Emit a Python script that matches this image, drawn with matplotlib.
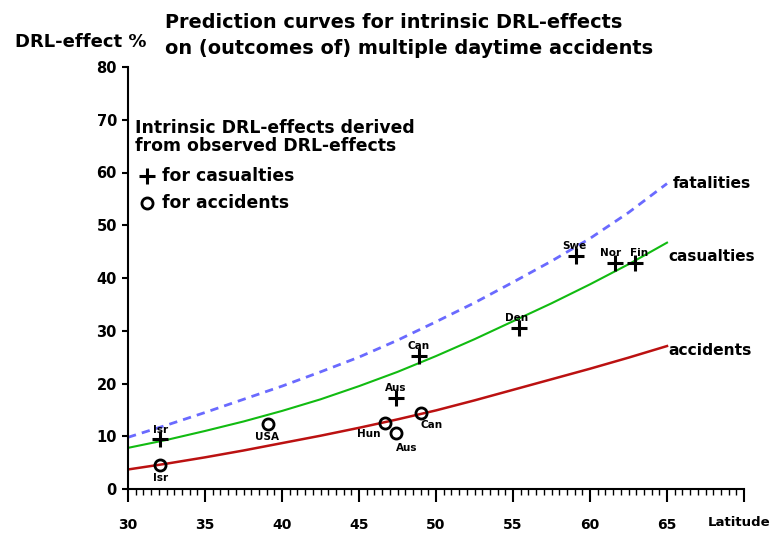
import matplotlib.pyplot as plt
from matplotlib.ticker import MultipleLocator

plt.rcParams['font.family'] = ['DejaVu Sans']
plt.rcParams['font.weight'] = 'bold'

# prediction curves
lat_curve = [30, 32.5, 35, 37.5, 40, 42.5, 45, 47.5, 50, 52.5, 55, 57.5, 60, 62.5, 65]
fatalities = [9.8, 12.1, 14.5, 17.0, 19.5, 22.2, 25.0, 28.2, 31.7, 35.3, 39.2, 43.2, 47.5, 52.4, 57.9]
casualties = [7.8, 9.3, 11.0, 12.8, 14.8, 17.0, 19.5, 22.2, 25.2, 28.4, 31.8, 35.2, 38.8, 42.6, 46.7]
accidents = [3.7, 4.8, 6.0, 7.3, 8.7, 10.1, 11.6, 13.2, 14.9, 16.8, 18.8, 20.8, 22.8, 24.9, 27.1]

# intrinsic effects derived from observed effects
cas_names = ["Isr", "Aus", "Can", "Den", "Swe", "Nor", "Fin"]
cas_lat = [32.1, 47.4, 48.9, 55.4, 59.1, 61.6, 62.9]
cas_val = [9.4, 17.3, 25.2, 30.6, 44.2, 42.9, 42.9]
cas_offsets = [(0, 7), (0, 7), (0, 7), (-2, 7), (-1, 7), (-3, 7), (3, 7)]

acc_names = ["Isr", "USA", "Hun", "Aus", "Can"]
acc_lat = [32.1, 39.1, 46.7, 47.4, 49.0]
acc_val = [4.5, 12.3, 12.6, 10.7, 14.5]
acc_offsets = [(0, -9), (-1, -9), (-12, -8), (8, -11), (8, -9)]

xticks = [30, 35, 40, 45, 50, 55, 60, 65, 70]
xticklabels = ["30", "35", "40", "45", "50", "55", "60", "65", ""]

fig = plt.figure(figsize=(7.72, 5.36), dpi=100)
ax = fig.add_axes([128 / 772, 1 - 489 / 536, 616 / 772, 422 / 536])

ax.plot(lat_curve, fatalities, color="#6a6aff", lw=2, dashes=(3, 2.2))
ax.plot(lat_curve, casualties, color="#11bb11", lw=1.5)
ax.plot(lat_curve, accidents, color="#bb1111", lw=1.8)

ax.plot(cas_lat, cas_val, linestyle="none", marker="+", color="black",
        markersize=11, markeredgewidth=2.2)
ax.plot(acc_lat, acc_val, linestyle="none", marker="o", color="black",
        markerfacecolor="none", markersize=8, markeredgewidth=2)

for name, x, y, off in zip(cas_names, cas_lat, cas_val, cas_offsets):
    ax.annotate(name, (x, y), xytext=off, textcoords="offset points",
                ha="center", va="center", fontsize=7.5)
for name, x, y, off in zip(acc_names, acc_lat, acc_val, acc_offsets):
    ax.annotate(name, (x, y), xytext=off, textcoords="offset points",
                ha="center", va="center", fontsize=7.5)

# curve names at the right end
ax.annotate("fatalities", (lat_curve[-1], fatalities[-1]), xytext=(4, 0),
            textcoords="offset points", va="center", fontsize=11.2)
ax.annotate("casualties", (lat_curve[-1], casualties[-1]), xytext=(1, -10),
            textcoords="offset points", va="center", fontsize=11)
ax.annotate("accidents", (lat_curve[-1], accidents[-1]), xytext=(1, -3),
            textcoords="offset points", va="center", fontsize=11.2)

ax.set_xlim(30, 70)
ax.set_ylim(0, 80)
ax.set_xticks(xticks)
ax.set_xticklabels(xticklabels)
ax.xaxis.set_minor_locator(MultipleLocator(0.5))
ax.yaxis.set_major_locator(MultipleLocator(10))

ax.spines["top"].set_visible(False)
ax.spines["right"].set_visible(False)
ax.spines["left"].set_linewidth(1.5)
ax.spines["bottom"].set_linewidth(1.5)
ax.tick_params(axis="x", which="major", length=9, width=1.5, pad=12, labelsize=10)
ax.tick_params(axis="x", which="minor", length=4, width=1)
ax.tick_params(axis="y", which="major", length=4, width=1.5, pad=4, labelsize=10.5)

# inline legend text
ax.text(0.012, 0.876, "Intrinsic DRL-effects derived\nfrom observed DRL-effects",
        transform=ax.transAxes, fontsize=12.4, va="top", linespacing=0.95)
ax.plot([0.031], [0.741], transform=ax.transAxes, marker="+", color="black",
        markersize=11, markeredgewidth=2.2)
ax.text(0.056, 0.741, "for casualties", transform=ax.transAxes, fontsize=12.4, va="center")
ax.plot([0.031], [0.677], transform=ax.transAxes, marker="o", color="black",
        markerfacecolor="none", markersize=8, markeredgewidth=2)
ax.text(0.056, 0.677, "for accidents", transform=ax.transAxes, fontsize=12.4, va="center")

fig.text(165 / 772, 1 - 22 / 536, "Prediction curves for intrinsic DRL-effects",
         fontsize=13.9, va="center", ha="left")
fig.text(165 / 772, 1 - 48 / 536, "on (outcomes of) multiple daytime accidents",
         fontsize=13.9, va="center", ha="left")
fig.text(15 / 772, 1 - 42 / 536, "DRL-effect %", fontsize=13, va="center", ha="left")
fig.text(739 / 772, 1 - 523 / 536, "Latitude", fontsize=9.5, va="center", ha="center")

fig.savefig("out.png", dpi=100)
